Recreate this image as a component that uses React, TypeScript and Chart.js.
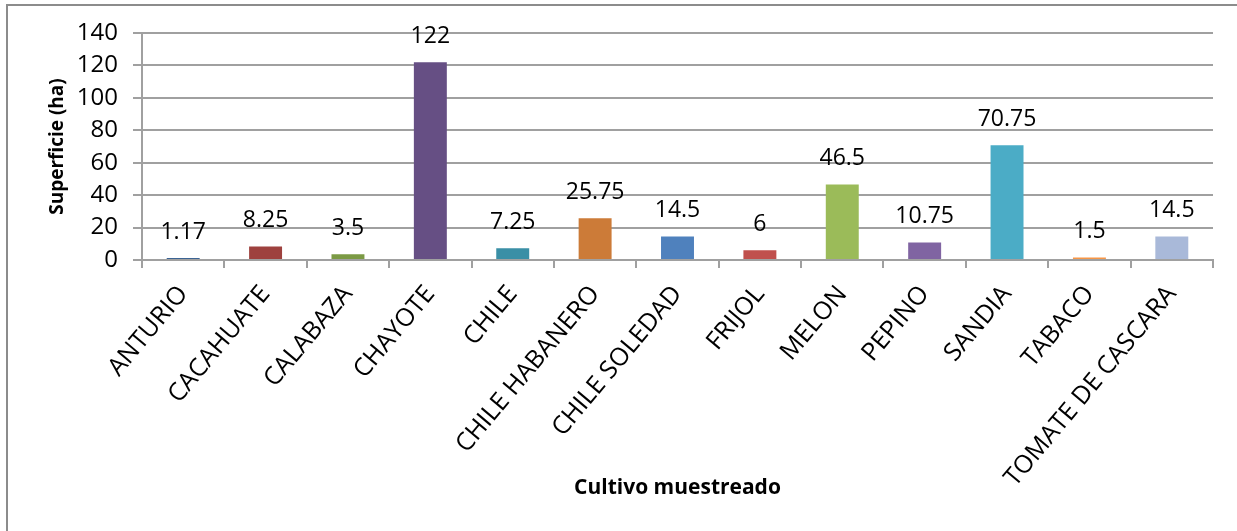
import React, { useEffect, useRef } from "react";
import { Chart, registerables } from "chart.js";

Chart.register(...registerables);

const categories = [
  "ANTURIO",
  "CACAHUATE",
  "CALABAZA",
  "CHAYOTE",
  "CHILE",
  "CHILE HABANERO",
  "CHILE SOLEDAD",
  "FRIJOL",
  "MELON",
  "PEPINO",
  "SANDIA",
  "TABACO",
  "TOMATE DE CASCARA",
];

const superficie = [1.17, 8.25, 3.5, 122, 7.25, 25.75, 14.5, 6, 46.5, 10.75, 70.75, 1.5, 14.5];

const barColors = [
  "#3C6494",
  "#9E413E",
  "#7B9A44",
  "#664F84",
  "#3A8FA6",
  "#CC7B38",
  "#4F81BD",
  "#C0504D",
  "#9BBB59",
  "#8064A2",
  "#4BACC6",
  "#F79646",
  "#A9B9D9",
];

const yTitle = "Superficie (ha)";
const xTitle = "Cultivo muestreado";

const FONT = "'Open Sans', 'Noto Sans', sans-serif";
const GRID = "#a0a0a0";

const valueLabels = {
  id: "valueLabels",
  afterDatasetsDraw(chart: any) {
    const ctx = chart.ctx;
    const meta = chart.getDatasetMeta(0);
    ctx.save();
    ctx.font = `23px ${FONT}`;
    ctx.fillStyle = "#000";
    ctx.textAlign = "center";
    ctx.textBaseline = "middle";
    meta.data.forEach((bar: any, i: number) => {
      ctx.fillText(String(superficie[i]), bar.x, bar.y - 26);
    });
    ctx.restore();
  },
};

export default function App() {
  const ref = useRef<HTMLCanvasElement | null>(null);

  useEffect(() => {
    if (!ref.current) return;
    const chart = new Chart(ref.current, {
      type: "bar",
      data: {
        labels: categories,
        datasets: [
          {
            data: superficie,
            backgroundColor: barColors,
            borderWidth: 0,
            barPercentage: 0.4,
            categoryPercentage: 1,
          },
        ],
      },
      options: {
        animation: false,
        responsive: false,
        maintainAspectRatio: false,
        layout: { padding: { top: 33, right: 24, left: 0, bottom: 0 } },
        plugins: {
          legend: { display: false },
          tooltip: { enabled: false },
        },
        scales: {
          x: {
            afterFit: (s: any) => {
              s.height = 271;
            },
            grid: {
              display: true,
              drawOnChartArea: false,
              drawTicks: true,
              tickLength: 8,
              color: GRID,
              lineWidth: 2,
              offset: true,
            },
            border: { display: true, color: GRID, width: 2 },
            ticks: {
              autoSkip: false,
              minRotation: 50,
              maxRotation: 50,
              padding: 12,
              color: "#000",
              font: { family: FONT, size: 25 },
            },
            title: {
              display: true,
              text: xTitle,
              color: "#000",
              font: { family: FONT, size: 21, weight: "bold" },
              padding: { top: 0, bottom: 30 },
            },
          },
          y: {
            min: 0,
            max: 140,
            afterFit: (s: any) => {
              s.width = 142;
            },
            grid: {
              color: GRID,
              lineWidth: 2,
              tickLength: 9,
              drawTicks: true,
            },
            border: { display: true, color: GRID, width: 2 },
            ticks: {
              stepSize: 20,
              padding: 15,
              color: "#000",
              font: { family: FONT, size: 24 },
            },
            title: {
              display: true,
              text: yTitle,
              color: "#000",
              font: { family: FONT, size: 19, weight: "bold" },
              padding: { top: 46, bottom: 0 },
            },
          },
        },
      },
      plugins: [valueLabels],
    });
    return () => chart.destroy();
  }, []);

  return (
    <div
      style={{
        position: "fixed",
        left: 0,
        top: 0,
        width: 1237,
        height: 531,
        background: "#fff",
        overflow: "hidden",
      }}
    >
      <div
        style={{
          position: "absolute",
          left: 6,
          top: 4,
          width: 1400,
          height: 700,
          border: "2px solid #8c8c8c",
          boxSizing: "border-box",
        }}
      />
      <canvas
        ref={ref}
        width={1237}
        height={531}
        style={{ position: "absolute", left: 0, top: 0, width: 1237, height: 531 }}
      />
    </div>
  );
}
